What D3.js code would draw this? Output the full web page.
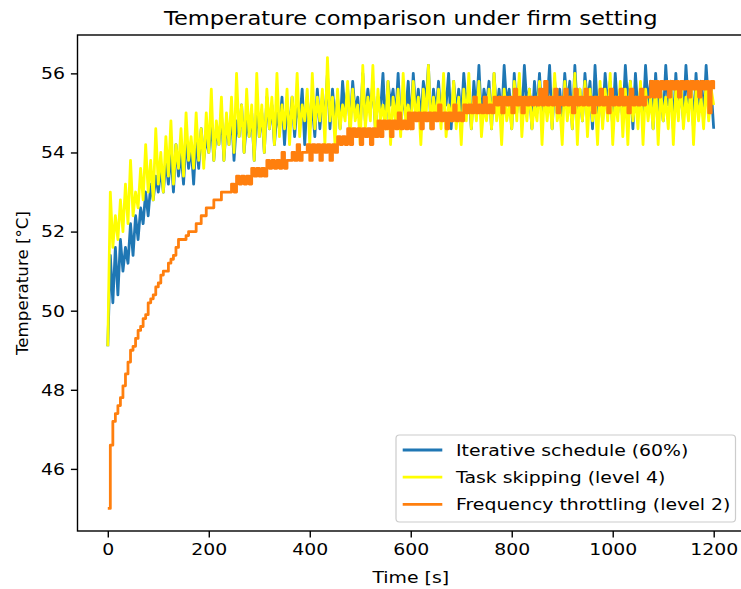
<!DOCTYPE html>
<html>
<head>
<meta charset="utf-8">
<script src="https://cdn.jsdelivr.net/npm/d3@7"></script>
<style>
  body { margin: 0; background: #fff; }
  text { font-family: "DejaVu Sans", sans-serif; fill: #000; }
</style>
</head>
<body>
<div id="container"></div>
<script>
// samples every 5 s, from 0 to 1200 s
const sampleStep = 5;

const iterativeTemp = [
  49.1, 51.4, 50.2, 51.6, 50.4, 51.8, 51.0, 51.6, 51.2, 52.2, 51.4, 52.4,
  51.8, 52.6, 52.2, 53.0, 52.4, 53.2, 52.8, 53.4, 53.0, 53.6, 53.0, 53.8,
  53.2, 54.0, 53.0, 54.2, 53.4, 54.0, 53.2, 54.4, 53.6, 54.2, 53.2, 54.4,
  53.6, 54.6, 53.8, 54.4, 54.0, 54.8, 53.8, 54.6, 54.2, 55.0, 53.8, 54.8,
  54.2, 55.0, 53.8, 54.8, 54.4, 55.2, 54.0, 54.8, 54.4, 55.0, 53.8, 55.2,
  54.4, 55.0, 54.0, 55.4, 54.6, 55.2, 54.2, 55.0, 54.6, 55.4, 54.2, 55.2,
  54.6, 55.4, 54.4, 55.2, 54.8, 55.6, 54.2, 55.4, 54.6, 55.2, 54.4, 55.6,
  54.6, 55.4, 54.8, 56.0, 54.6, 55.6, 54.8, 55.4, 54.6, 55.8, 55.0, 55.6,
  54.6, 55.8, 55.0, 55.4, 54.6, 56.0, 54.8, 55.6, 55.0, 55.8, 54.6, 55.4,
  55.0, 56.0, 54.6, 55.8, 55.2, 55.6, 54.8, 56.0, 54.6, 55.4, 55.0, 55.8,
  54.6, 56.0, 55.0, 55.6, 54.8, 55.8, 55.2, 56.2, 54.6, 55.6, 55.0, 55.8,
  54.8, 55.6, 55.2, 56.0, 54.6, 55.8, 55.0, 55.6, 54.8, 56.0, 55.2, 55.6,
  54.6, 55.8, 55.0, 56.2, 54.8, 55.6, 55.2, 55.8, 54.6, 56.0, 55.0, 55.6,
  54.8, 56.2, 55.2, 55.6, 54.6, 56.0, 55.0, 55.8, 54.8, 56.2, 55.2, 55.6,
  54.6, 55.8, 55.0, 56.0, 54.8, 55.6, 55.2, 56.2, 54.6, 55.8, 55.0, 55.6,
  54.8, 56.0, 55.2, 55.8, 54.6, 56.2, 55.0, 55.6, 54.8, 56.0, 55.2, 55.8,
  54.6, 56.2, 55.0, 55.6, 54.8, 56.0, 55.2, 55.8, 54.6, 56.0, 55.0, 55.6,
  54.8, 56.2, 55.2, 55.8, 54.6, 56.0, 55.0, 55.6, 54.8, 56.2, 55.2, 55.8,
  54.6, 56.0, 55.0, 55.6, 54.8, 56.2, 55.2, 55.8, 54.6, 56.0, 55.0, 55.6,
  54.8, 56.2, 55.2, 55.8, 54.6, 56.0, 55.0, 55.8, 54.8, 56.2, 55.2, 55.6,
  54.6
];

const skippingTemp = [
  49.1, 53.0, 51.6, 52.4, 51.8, 52.8, 52.0, 53.2, 52.2, 53.8, 52.4, 53.0,
  52.6, 53.6, 52.8, 54.2, 53.0, 53.8, 52.8, 54.6, 53.2, 54.0, 53.0, 54.4,
  53.4, 54.8, 53.2, 54.2, 53.6, 54.6, 53.4, 55.0, 53.8, 54.4, 53.6, 55.0,
  53.8, 54.6, 53.6, 55.0, 54.0, 55.6, 53.8, 54.8, 54.2, 55.4, 53.8, 55.0,
  54.2, 55.4, 54.0, 56.0, 54.4, 55.2, 54.0, 55.6, 54.4, 55.2, 53.8, 56.0,
  54.4, 55.2, 54.0, 55.6, 54.6, 55.4, 54.2, 56.0, 54.4, 55.2, 54.6, 55.6,
  54.2, 55.4, 54.6, 56.0, 54.4, 55.2, 54.8, 55.6, 54.2, 56.0, 54.6, 55.4,
  54.8, 55.6, 54.2, 56.4, 54.8, 55.4, 54.2, 55.6, 54.6, 55.2, 54.8, 55.8,
  54.4, 55.6, 54.8, 55.2, 54.2, 56.2, 54.6, 55.4, 54.8, 56.2, 54.4, 55.6,
  54.8, 55.2, 54.6, 55.8, 54.2, 55.4, 54.8, 55.6, 54.4, 56.0, 54.8, 55.2,
  54.6, 55.8, 54.8, 55.4, 54.2, 55.6, 54.8, 56.2, 54.6, 55.4, 54.8, 55.6,
  54.6, 56.0, 54.4, 55.2, 54.8, 55.8, 54.6, 55.4, 54.2, 55.6, 54.8, 56.0,
  54.6, 55.4, 54.8, 55.8, 54.4, 55.2, 54.8, 55.6, 54.6, 56.0, 54.8, 55.4,
  54.2, 55.6, 54.8, 55.2, 54.6, 55.8, 54.8, 56.0, 54.4, 55.4, 54.8, 55.6,
  54.6, 55.2, 54.8, 55.8, 54.2, 55.6, 54.8, 55.4, 54.6, 56.0, 54.8, 55.2,
  54.2, 55.8, 54.8, 55.4, 54.6, 56.0, 54.2, 55.6, 54.8, 55.8, 54.4, 55.6,
  54.8, 55.4, 54.2, 55.8, 54.6, 55.6, 54.8, 56.0, 54.2, 55.4, 54.8, 55.8,
  54.4, 55.6, 54.2, 55.8, 54.8, 55.4, 54.6, 55.8, 54.2, 55.6, 54.8, 55.4,
  54.6, 55.8, 54.2, 55.6, 54.8, 55.4, 54.6, 55.8, 54.2, 55.6, 54.8, 55.8,
  54.6, 55.4, 54.8, 55.8, 54.2, 55.6, 54.8, 55.4, 54.6, 55.8, 54.8, 55.6,
  55.2
];

const throttlingTemp = [
  45.0, 46.6, 47.2, 47.4, 47.6, 47.8, 48.1, 48.4, 48.7, 49.0, 49.1, 49.3,
  49.5, 49.6, 49.8, 49.9, 50.2, 50.3, 50.4, 50.6, 50.7, 50.9, 51.0, 51.0,
  51.2, 51.3, 51.4, 51.6, 51.8, 51.8, 51.8, 51.9, 52.0, 52.0, 52.0, 52.2,
  52.2, 52.4, 52.4, 52.6, 52.6, 52.6, 52.8, 52.8, 52.8, 53.0, 53.0, 53.0,
  53.0, 53.2, 53.0, 53.4, 53.2, 53.4, 53.2, 53.4, 53.2, 53.6, 53.4, 53.6,
  53.4, 53.6, 53.4, 53.8, 53.6, 53.8, 53.6, 53.8, 53.6, 54.0, 53.6, 53.8,
  53.8, 54.0, 53.8, 54.2, 53.8, 54.0, 54.0, 54.2, 53.8, 54.2, 54.0, 54.2,
  53.8, 54.2, 54.0, 54.2, 53.8, 54.2, 54.0, 54.4, 54.2, 54.4, 54.2, 54.6,
  54.2, 54.6, 54.4, 54.6, 54.2, 54.6, 54.4, 54.6, 54.2, 54.6, 54.4, 54.8,
  54.4, 54.8, 54.6, 54.8, 54.4, 54.8, 54.6, 55.0, 54.6, 54.8, 54.6, 55.0,
  54.6, 55.0, 54.8, 55.0, 54.6, 55.0, 54.8, 55.0, 54.6, 55.0, 54.8, 55.2,
  54.8, 55.0, 54.6, 55.0, 54.8, 55.2, 54.8, 55.0, 54.8, 55.2, 55.0, 55.2,
  55.0, 55.4, 55.0, 55.2, 55.0, 55.4, 55.0, 55.2, 55.0, 55.4, 55.2, 55.4,
  55.0, 55.4, 55.2, 55.4, 55.0, 55.6, 55.2, 55.4, 55.0, 55.4, 55.2, 55.4,
  55.2, 55.4, 55.2, 55.6, 55.2, 55.8, 55.2, 55.4, 55.2, 55.6, 55.0, 55.4,
  55.2, 55.6, 55.2, 55.4, 55.0, 55.6, 55.2, 55.4, 55.2, 55.6, 55.2, 55.4,
  55.0, 55.4, 55.2, 55.6, 55.2, 55.4, 55.0, 55.6, 55.2, 55.4, 55.2, 55.6,
  55.2, 55.4, 55.0, 55.6, 55.2, 55.4, 55.2, 55.6, 55.2, 55.4, 55.4, 55.8,
  55.4, 55.8, 55.4, 55.8, 55.6, 55.8, 55.4, 55.8, 55.6, 55.8, 55.4, 55.8,
  55.6, 55.8, 55.4, 55.8, 55.6, 55.8, 55.4, 55.8, 55.6, 55.8, 55.0, 55.8,
  55.6
];

const seriesNames = [
  "Iterative schedule (60%)",
  "Task skipping (level 4)",
  "Frequency throttling (level 2)"
];
const seriesColors = ["#1f77b4", "#ffff00", "#ff7f0e"];
// throttling readings move in stair steps, the others spike
const seriesCurves = [d3.curveLinear, d3.curveLinear, d3.curveStepAfter];
const xTicks = [0, 200, 400, 600, 800, 1000, 1200];
const yTicks = [46, 48, 50, 52, 54, 56];

const series = [iterativeTemp, skippingTemp, throttlingTemp].map((values, i) => ({
  name: seriesNames[i],
  color: seriesColors[i],
  curve: seriesCurves[i],
  points: values.map((v, j) => ({ t: j * sampleStep, v: v }))
}));

const width = 741,
  height = 589;
const plot = { left: 77.5, right: 744, top: 35, bottom: 531 };
// the reference picture is a bit wider than tall, text looks stretched
const textStretch = 1.13;

const svg = d3
  .select("#container")
  .append("svg")
  .attr("width", width)
  .attr("height", height);

// matplotlib style 5% margins
const allT = series.flatMap((s) => s.points.map((p) => p.t));
const allV = series.flatMap((s) => s.points.map((p) => p.v));
const [tMin, tMax] = d3.extent(allT);
const [vMin, vMax] = d3.extent(allV);
const tPad = (tMax - tMin) * 0.05,
  vPad = (vMax - vMin) * 0.05;

const x = d3
  .scaleLinear()
  .domain([tMin - tPad, tMax + tPad])
  .range([plot.left, plot.right]);
const y = d3
  .scaleLinear()
  .domain([vMin - vPad, vMax + vPad])
  .range([plot.bottom, plot.top]);

svg
  .append("clipPath")
  .attr("id", "plot-clip")
  .append("rect")
  .attr("x", plot.left)
  .attr("y", plot.top)
  .attr("width", plot.right - plot.left)
  .attr("height", plot.bottom - plot.top);

svg
  .append("g")
  .attr("clip-path", "url(#plot-clip)")
  .selectAll("path")
  .data(series)
  .enter()
  .append("path")
  .attr("d", (d) =>
    d3
      .line()
      .curve(d.curve)
      .x((p) => x(p.t))
      .y((p) => y(p.v))(d.points)
  )
  .attr("fill", "none")
  .attr("stroke", (d) => d.color)
  .attr("stroke-width", 2.8)
  .attr("stroke-linejoin", "round");

//Axes
const xAxis = d3
  .axisBottom(x)
  .tickValues(xTicks)
  .tickSize(6.6)
  .tickPadding(5.8)
  .tickFormat(d3.format("d"));
const yAxis = d3
  .axisLeft(y)
  .tickValues(yTicks)
  .tickSize(6.6)
  .tickPadding(6)
  .tickFormat(d3.format("d"));

const gx = svg
  .append("g")
  .attr("transform", `translate(0, ${plot.bottom})`)
  .call(xAxis);
const gy = svg
  .append("g")
  .attr("transform", `translate(${plot.left}, 0)`)
  .call(yAxis);

[gx, gy].forEach((g) => {
  g.select(".domain").remove();
  g.selectAll(".tick line").attr("stroke", "#000").attr("stroke-width", 1.4);
  g.selectAll(".tick text")
    .attr("font-size", "16.7px")
    .attr("font-family", "DejaVu Sans")
    .attr("fill", "#000")
    .call(stretchText);
});

// spines
svg
  .append("rect")
  .attr("x", plot.left)
  .attr("y", plot.top)
  .attr("width", plot.right - plot.left)
  .attr("height", plot.bottom - plot.top)
  .attr("fill", "none")
  .attr("stroke", "#000")
  .attr("stroke-width", 1.4);

svg
  .append("text")
  .attr("x", (plot.left + plot.right) / 2)
  .attr("y", 25)
  .attr("text-anchor", "middle")
  .attr("font-size", "20px")
  .text("Temperature comparison under firm setting")
  .call(stretchText);

svg
  .append("text")
  .attr("x", (plot.left + plot.right) / 2)
  .attr("y", 583)
  .attr("text-anchor", "middle")
  .attr("font-size", "16.7px")
  .text("Time [s]")
  .call(stretchText);

svg
  .append("text")
  .attr("transform", `translate(28, ${(plot.top + plot.bottom) / 2}) rotate(-90)`)
  .attr("text-anchor", "middle")
  .attr("font-size", "16.7px")
  .text("Temperature [°C]");

//Legend
const legendBox = { x: 396, y: 435, w: 339.5, h: 87 };
const legendG = svg.append("g");
legendG
  .append("rect")
  .attr("x", legendBox.x)
  .attr("y", legendBox.y)
  .attr("width", legendBox.w)
  .attr("height", legendBox.h)
  .attr("rx", 3.5)
  .attr("fill", "#fff")
  .attr("fill-opacity", 0.8)
  .attr("stroke", "#cccccc")
  .attr("stroke-width", 1.2);

const legendItem = legendG
  .selectAll(".legend-item")
  .data(series)
  .enter()
  .append("g")
  .attr("class", "legend-item")
  .attr("transform", (d, i) => `translate(${legendBox.x}, ${legendBox.y + 15 + 27.2 * i})`);

legendItem
  .append("line")
  .attr("x1", 6.7)
  .attr("x2", 46.3)
  .attr("y1", 0)
  .attr("y2", 0)
  .attr("stroke", (d) => d.color)
  .attr("stroke-width", 2.8);

legendItem
  .append("text")
  .attr("x", 60)
  .attr("y", 6)
  .attr("font-size", "16.7px")
  .text((d) => d.name)
  .call(stretchText);

function stretchText(selection) {
  selection.each(function () {
    const len = this.getComputedTextLength();
    d3.select(this)
      .attr("textLength", len * textStretch)
      .attr("lengthAdjust", "spacingAndGlyphs");
  });
}
</script>
</body>
</html>
